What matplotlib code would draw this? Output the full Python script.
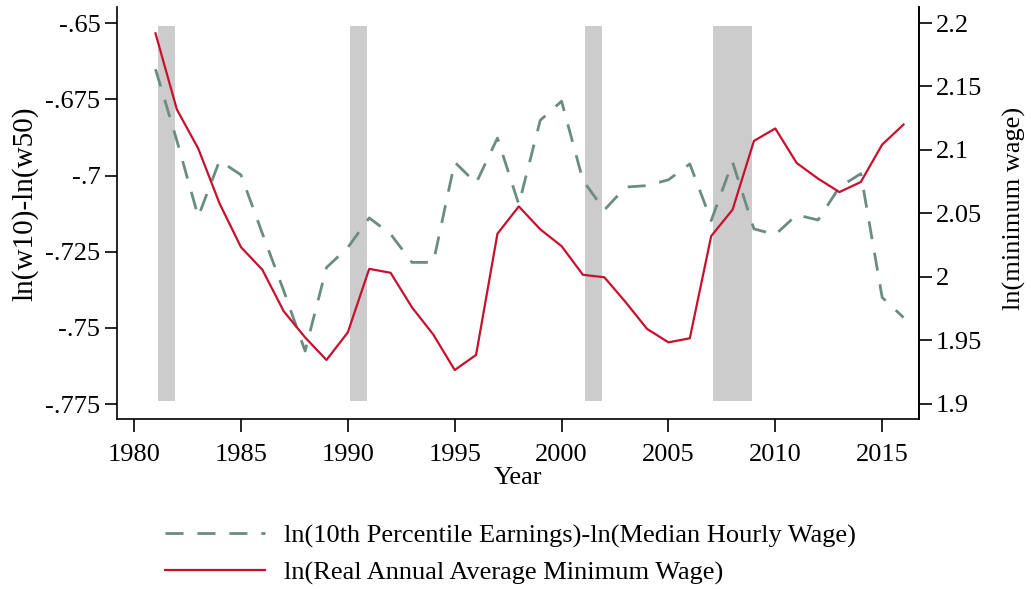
import matplotlib.pyplot as plt

plt.rcParams['font.family'] = ['Liberation Serif', 'DejaVu Serif']

# Data
years = list(range(1981, 2017))
gap_10_50 = [-0.6651, -0.6885, -0.7135, -0.6951, -0.6998, -0.7190, -0.7378,
             -0.7576, -0.7302, -0.7236, -0.7139, -0.7192, -0.7285, -0.7285,
             -0.6956, -0.7025, -0.6877, -0.7095, -0.6819, -0.6756, -0.7016,
             -0.7113, -0.7038, -0.7033, -0.7014, -0.6962, -0.7148, -0.6956,
             -0.7175, -0.7194, -0.7129, -0.7146, -0.7038, -0.6994, -0.7400,
             -0.7466]
ln_minwage = [2.1919, 2.1319, 2.1011, 2.0577, 2.0234, 2.0056, 1.9729, 1.9523,
              1.9345, 1.9563, 2.0063, 2.0032, 1.9760, 1.9545, 1.9266, 1.9385,
              2.0340, 2.0555, 2.0375, 2.0242, 2.0016, 1.9997, 1.9800, 1.9590,
              1.9484, 1.9516, 2.0321, 2.0529, 2.1071, 2.1169, 2.0897, 2.0774,
              2.0668, 2.0747, 2.1042, 2.1200]

# recession spans (years)
rec_start = [1981.1, 1990.1, 2001.1, 2007.1]
rec_end = [1981.9, 1990.9, 2001.9, 2008.9]

left_ticks = [-0.65, -0.675, -0.7, -0.725, -0.75, -0.775]
left_labels = ['-.65', '-.675', '-.7', '-.725', '-.75', '-.775']
right_ticks = [2.2, 2.15, 2.1, 2.05, 2.0, 1.95, 1.9]
right_labels = ['2.2', '2.15', '2.1', '2.05', '2', '1.95', '1.9']
x_ticks = [1980, 1985, 1990, 1995, 2000, 2005, 2010, 2015]

red = '#C8102E'
green = '#6B8C80'
fs = 19

fig = plt.figure(figsize=(10.31, 5.89), dpi=100)
ax1 = fig.add_axes([0.1135, 0.2886, 0.778, 0.6995])
ax2 = ax1.twinx()

# shaded recessions
for s, e in zip(rec_start, rec_end):
    ax1.fill_between([s, e], -0.7740, -0.6510, color='#CCCCCC', lw=0, zorder=0)

l1, = ax1.plot(years, gap_10_50, color=green, lw=2.0, dashes=(6.5, 5),
               label='ln(10th Percentile Earnings)-ln(Median Hourly Wage)')
l2, = ax2.plot(years, ln_minwage, color=red, lw=1.6,
               label='ln(Real Annual Average Minimum Wage)')

ax1.set_xlim(1979.2, 2016.73)
ax1.set_ylim(-0.7799, -0.6447)
ax2.set_ylim(1.888, 2.2126)

ax1.set_xticks(x_ticks)
ax1.set_yticks(left_ticks)
ax1.set_yticklabels(left_labels)
ax2.set_yticks(right_ticks)
ax2.set_yticklabels(right_labels)

for ax in (ax1, ax2):
    ax.spines['top'].set_visible(False)
    ax.tick_params(labelsize=fs, length=9, width=1.2, direction='out', pad=3)
    for sp in ax.spines.values():
        sp.set_linewidth(1.2)
ax1.tick_params(axis='x', pad=9)
ax2.spines['left'].set_visible(False)
ax2.spines['bottom'].set_visible(False)

ax1.set_xlabel('Year', fontsize=fs, labelpad=1)
ax1.set_ylabel('ln(w10)-ln(w50)', fontsize=21)
ax1.yaxis.set_label_coords(-0.0985, 0.522)
ax2.set_ylabel('ln(minimum wage)', fontsize=19)
ax2.yaxis.set_label_coords(1.1043, 0.51)

fig.legend(handles=[l1, l2], loc='upper left', bbox_to_anchor=(0.150, 0.128),
           frameon=False, fontsize=fs, handlelength=3.8, handletextpad=0.7,
           labelspacing=0.5, borderaxespad=0)

fig.savefig('out.png', dpi=100)
